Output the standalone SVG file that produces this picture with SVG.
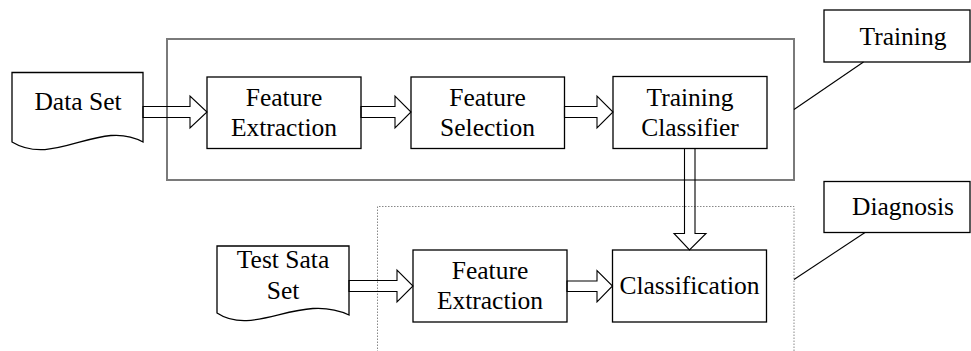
<svg xmlns="http://www.w3.org/2000/svg" width="971" height="351" viewBox="0 0 971 351">
<style>
.box{fill:#fff;stroke:#000;stroke-width:1.3}
.doc{fill:#fff;stroke:#000;stroke-width:1.3}
.arr{fill:none;stroke:#000;stroke-width:1.1;stroke-linejoin:miter}
.lead{fill:none;stroke:#000;stroke-width:1.1}
.t{font-family:"Times New Roman",Times,"Liberation Serif",Tinos,"Nimbus Roman","Noto Serif",serif;font-size:25.5px;fill:#000;text-anchor:middle}
</style>
<rect width="971" height="351" fill="#fff"/>
<g id="training-group"><rect x="167" y="39" width="627" height="141" fill="none" stroke="#7a7a7a" stroke-width="2"/></g>
<g id="diagnosis-group"><path d="M377.5,352 V206.5 H794 V352" fill="none" stroke="#888" stroke-width="1" stroke-dasharray="1.5,1.5"/></g>
<g id="data-set"><path class="doc" d="M12,72.5 H143 V142 C100,118 55,168 12,142 Z"/><text class="t" x="78" y="110">Data Set</text></g>
<g id="fe1"><rect class="box" x="207" y="77" width="154" height="71.5"/><text class="t" x="284" y="106">Feature</text><text class="t" x="284" y="136">Extraction</text></g>
<g id="fs"><rect class="box" x="411" y="77" width="153.5" height="71.5"/><text class="t" x="487.5" y="106">Feature</text><text class="t" x="487.5" y="136">Selection</text></g>
<g id="tc"><rect class="box" x="613" y="76.5" width="154" height="72"/><text class="t" x="690" y="105.5">Training</text><text class="t" x="690" y="136">Classifier</text></g>
<g id="test-set"><path class="doc" d="M217,246 H349 V315 C300,292 255,338 217,313 Z"/><text class="t" x="283" y="268">Test Sata</text><text class="t" x="283" y="299">Set</text></g>
<g id="fe2"><rect class="box" x="413" y="250" width="154" height="72"/><text class="t" x="490" y="278.5">Feature</text><text class="t" x="490" y="309">Extraction</text></g>
<g id="cls"><rect class="box" x="612.5" y="250" width="154" height="72"/><text class="t" x="689.5" y="293.5">Classification</text></g>
<g id="training-label"><rect class="box" x="824" y="10" width="146" height="52"/><text class="t" x="903" y="45">Training</text></g>
<g id="diagnosis-label"><rect class="box" x="824" y="181.5" width="146" height="51"/><text class="t" x="903" y="215">Diagnosis</text></g>
<g id="connectors">
<polygon class="arr" points="143,106.5 190,106.5 190,96 207,112 190,128 190,117.5 143,117.5"/>
<polygon class="arr" points="361,106.5 395,106.5 395,96 411,112 395,128 395,117.5 361,117.5"/>
<polygon class="arr" points="564.5,106.5 597,106.5 597,96 613,112 597,128 597,117.5 564.5,117.5"/>
<polygon class="arr" points="684.5,148.5 684.5,233.5 674,233.5 689.5,250 706,233.5 695,233.5 695,148.5"/>
<polygon class="arr" points="349,280.5 397,280.5 397,270 413,286 397,302 397,291.5 349,291.5"/>
<polygon class="arr" points="567,281 597,281 597,270.5 612.5,286 597,302 597,291.5 567,291.5"/>
<line class="lead" x1="794" y1="109.5" x2="863.5" y2="62"/>
<line class="lead" x1="794" y1="279.5" x2="865" y2="232.5"/>
</g>
</svg>
